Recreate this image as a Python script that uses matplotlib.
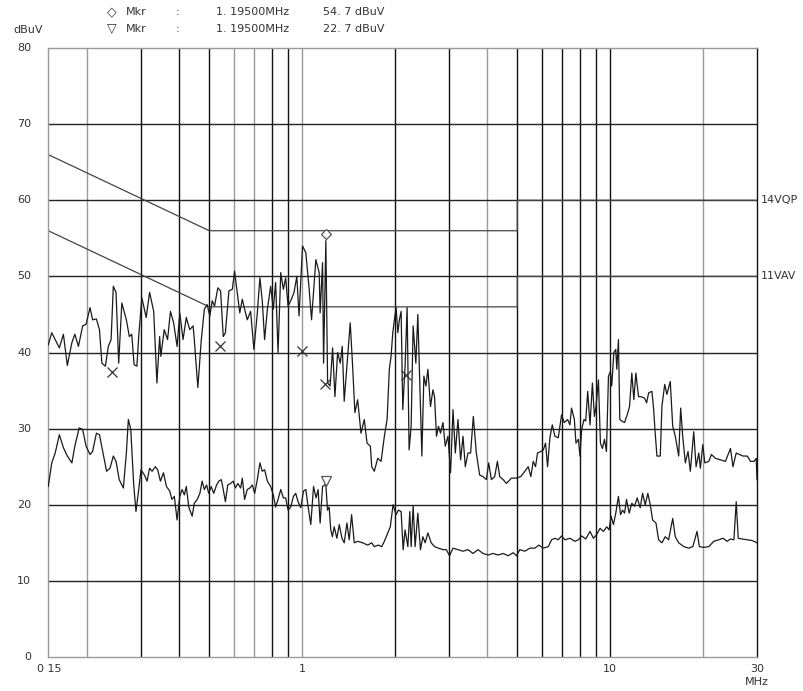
import matplotlib
matplotlib.use("Agg")
import matplotlib.pyplot as plt
import matplotlib.transforms as mtransforms

# peak trace (MHz, dBuV)
pk_freq = [0.150, 0.154, 0.158, 0.163, 0.168, 0.173, 0.179, 0.183, 0.188, 0.194,
           0.199, 0.205, 0.209, 0.215, 0.220, 0.224, 0.230, 0.235, 0.240, 0.244,
           0.249, 0.254, 0.260, 0.269, 0.275, 0.280, 0.285, 0.291, 0.295, 0.302,
           0.312, 0.320, 0.330, 0.338, 0.345, 0.348, 0.357, 0.366, 0.374, 0.383,
           0.393, 0.401, 0.411, 0.421, 0.432, 0.443, 0.447, 0.459, 0.471, 0.482,
           0.492, 0.502, 0.511, 0.520, 0.533, 0.544, 0.555, 0.564, 0.579, 0.594,
           0.604, 0.616, 0.628, 0.640, 0.651, 0.664, 0.681, 0.698, 0.716, 0.730,
           0.743, 0.756, 0.772, 0.791, 0.807, 0.821, 0.836, 0.853, 0.870, 0.885,
           0.901, 0.924, 0.942, 0.962, 0.978, 1.004, 1.029, 1.055, 1.074, 1.109,
           1.137, 1.145, 1.166, 1.175, 1.195, 1.211, 1.234, 1.257, 1.279, 1.305,
           1.331, 1.351, 1.371, 1.399, 1.434, 1.460, 1.485, 1.516, 1.554, 1.593,
           1.626, 1.667, 1.684, 1.717, 1.761, 1.806, 1.851, 1.889, 1.921, 1.946,
           1.971, 1.995, 2.021, 2.047, 2.071, 2.098, 2.124, 2.161, 2.194, 2.227,
           2.261, 2.295, 2.342, 2.377, 2.413, 2.450, 2.487, 2.525, 2.563, 2.613,
           2.661, 2.693, 2.733, 2.774, 2.817, 2.868, 2.918, 2.978, 3.036, 3.092,
           3.146, 3.209, 3.273, 3.332, 3.390, 3.459, 3.527, 3.599, 3.681, 3.774,
           3.870, 3.969, 4.038, 4.119, 4.223, 4.309, 4.385, 4.499, 4.611, 4.785,
           4.970, 5.133, 5.289, 5.426, 5.533, 5.633, 5.731, 5.817, 5.962, 6.072,
           6.177, 6.270, 6.380, 6.495, 6.624, 6.793, 6.960, 7.106, 7.284, 7.411,
           7.500, 7.660, 7.752, 7.893, 7.988, 8.090, 8.230, 8.339, 8.464, 8.611,
           8.767, 8.900, 9.007, 9.171, 9.309, 9.450, 9.594, 9.738, 9.885, 10.03,
           10.13, 10.29, 10.44, 10.52, 10.65, 10.76, 10.92, 11.15, 11.43, 11.57,
           11.77, 11.95, 12.13, 12.38, 12.62, 12.95, 13.15, 13.35, 13.68, 13.86,
           14.02, 14.20, 14.56, 14.74, 15.05, 15.30, 15.69, 15.98, 16.29, 16.71,
           16.96, 17.22, 17.56, 17.92, 18.23, 18.70, 19.03, 19.42, 19.65, 20.01,
           20.31, 20.93, 21.34, 21.99, 22.83, 23.70, 24.61, 25.07, 25.69, 26.33,
           27.01, 27.89, 28.59, 29.33, 29.84, 30.0]
pk_level = [41.0, 42.6, 41.7, 40.6, 42.4, 38.3, 41.3, 42.4, 40.8, 43.5,
            43.7, 45.9, 44.3, 44.4, 43.0, 38.6, 38.2, 40.8, 41.7, 48.7,
            47.9, 38.6, 46.5, 44.3, 42.1, 42.4, 38.4, 38.2, 42.1, 47.2,
            44.6, 47.9, 45.4, 36.0, 42.1, 39.5, 43.0, 41.7, 45.4, 43.9,
            40.8, 45.2, 41.7, 44.6, 43.0, 43.5, 41.7, 35.4, 41.7, 45.7,
            46.3, 44.8, 46.8, 46.1, 48.5, 48.1, 42.1, 42.6, 48.1, 48.3,
            50.7, 47.9, 45.2, 47.0, 45.7, 44.3, 45.4, 40.4, 45.2, 49.8,
            46.8, 41.7, 45.7, 48.7, 45.7, 49.2, 40.0, 50.5, 48.3, 49.8,
            46.1, 47.0, 47.9, 50.0, 44.8, 54.0, 53.1, 48.3, 44.3, 52.2,
            50.5, 45.2, 51.8, 38.6, 54.7, 36.0, 35.6, 40.6, 34.2, 40.0,
            38.6, 40.8, 33.6, 38.2, 43.9, 38.2, 32.1, 33.8, 29.4, 31.2,
            28.1, 27.7, 25.0, 24.4, 26.1, 25.7, 29.0, 31.2, 37.8, 39.5,
            42.6, 44.3, 45.9, 42.6, 44.3, 45.4, 32.5, 38.2, 45.9, 27.2,
            30.3, 43.5, 38.6, 45.0, 36.0, 26.4, 36.9, 35.6, 37.8, 32.9,
            35.1, 34.2, 29.0, 30.3, 29.4, 30.8, 27.7, 29.0, 24.2, 32.5,
            26.8, 31.2, 25.9, 29.0, 25.0, 26.8, 26.8, 31.6, 26.8, 23.9,
            23.7, 23.3, 25.5, 23.3, 23.7, 25.7, 23.7, 23.3, 22.8, 23.5,
            23.5, 23.7, 24.4, 25.0, 23.7, 25.7, 25.0, 26.8, 27.0, 27.2,
            28.1, 25.0, 28.8, 30.5, 29.0, 28.8, 31.8, 30.8, 31.2, 30.5,
            32.7, 31.2, 28.1, 28.6, 26.4, 29.9, 31.2, 31.0, 34.9, 30.5,
            36.0, 31.6, 32.9, 36.4, 28.1, 27.4, 28.6, 27.0, 36.9, 37.5,
            35.6, 40.0, 40.4, 37.8, 41.7, 31.2, 31.0, 30.8, 32.1, 32.9,
            37.3, 33.8, 37.3, 34.2, 34.2, 34.0, 33.4, 34.7, 34.9, 32.5,
            29.4, 26.4, 26.4, 32.9, 35.8, 34.5, 36.2, 30.3, 29.0, 26.4,
            32.7, 29.0, 25.5, 27.0, 24.4, 29.6, 25.0, 26.8, 24.8, 27.9,
            25.5, 25.7, 26.6, 26.1, 25.9, 25.7, 27.4, 25.0, 26.8, 26.6,
            26.4, 26.4, 25.7, 25.7, 26.1, 23.3]

# average trace (MHz, dBuV)
av_freq = [0.150, 0.154, 0.158, 0.163, 0.168, 0.173, 0.179, 0.183, 0.189, 0.194,
           0.199, 0.205, 0.209, 0.215, 0.220, 0.226, 0.232, 0.238, 0.244, 0.249,
           0.255, 0.263, 0.269, 0.273, 0.278, 0.284, 0.289, 0.295, 0.300, 0.308,
           0.314, 0.320, 0.326, 0.334, 0.340, 0.347, 0.355, 0.363, 0.372, 0.378,
           0.385, 0.393, 0.401, 0.408, 0.415, 0.421, 0.429, 0.440, 0.447, 0.457,
           0.466, 0.474, 0.482, 0.490, 0.498, 0.507, 0.517, 0.528, 0.537, 0.547,
           0.555, 0.564, 0.574, 0.586, 0.598, 0.608, 0.619, 0.632, 0.640, 0.651,
           0.664, 0.677, 0.690, 0.702, 0.716, 0.730, 0.743, 0.756, 0.772, 0.791,
           0.807, 0.821, 0.836, 0.853, 0.870, 0.885, 0.901, 0.919, 0.938, 0.954,
           0.971, 0.991, 1.011, 1.029, 1.047, 1.068, 1.090, 1.111, 1.128, 1.145,
           1.166, 1.195, 1.210, 1.225, 1.240, 1.255, 1.272, 1.298, 1.321, 1.348,
           1.371, 1.399, 1.423, 1.449, 1.478, 1.516, 1.574, 1.634, 1.684, 1.717,
           1.769, 1.814, 1.851, 1.899, 1.935, 1.975, 2.021, 2.056, 2.098, 2.130,
           2.161, 2.206, 2.239, 2.261, 2.295, 2.330, 2.377, 2.424, 2.468, 2.511,
           2.563, 2.627, 2.693, 2.774, 2.868, 2.940, 3.013, 3.092, 3.209, 3.332,
           3.459, 3.591, 3.729, 3.870, 4.019, 4.173, 4.332, 4.499, 4.670, 4.849,
           4.970, 5.094, 5.289, 5.492, 5.702, 5.874, 6.072, 6.303, 6.460, 6.624,
           6.793, 6.960, 7.137, 7.411, 7.694, 7.893, 8.090, 8.339, 8.611, 8.834,
           9.056, 9.281, 9.521, 9.761, 9.932, 10.08, 10.26, 10.44, 10.65, 10.82,
           10.98, 11.15, 11.31, 11.54, 11.77, 12.01, 12.25, 12.53, 12.76, 13.01,
           13.27, 13.51, 13.75, 14.10, 14.38, 14.74, 15.11, 15.50, 15.98, 16.29,
           16.71, 17.36, 18.02, 18.57, 19.17, 19.50, 20.16, 20.93, 21.72, 22.56,
           23.25, 24.00, 24.61, 25.25, 25.69, 26.08, 26.87, 27.89, 28.96, 30.0]
av_level = [22.4, 25.5, 26.8, 29.2, 27.5, 26.4, 25.5, 27.7, 30.1, 29.9,
            27.7, 26.6, 27.0, 29.4, 29.2, 26.8, 24.4, 24.8, 26.4, 25.7,
            23.3, 22.2, 26.8, 31.2, 29.9, 22.8, 19.1, 22.0, 24.6, 23.9,
            23.1, 24.8, 24.4, 25.0, 24.6, 23.1, 24.2, 22.4, 21.8, 20.7,
            21.1, 18.0, 21.1, 22.0, 21.3, 22.4, 19.7, 18.5, 20.2, 20.7,
            21.5, 23.1, 22.0, 22.6, 21.5, 22.4, 21.5, 22.6, 23.1, 23.3,
            22.0, 20.4, 22.6, 22.8, 23.1, 22.2, 22.8, 22.2, 23.5, 20.7,
            22.0, 22.2, 22.6, 21.5, 23.3, 25.5, 24.4, 24.6, 23.1, 22.4,
            21.3, 19.7, 20.7, 22.0, 20.9, 20.9, 19.3, 19.7, 21.1, 21.5,
            20.4, 19.6, 21.8, 22.0, 19.7, 17.4, 22.4, 20.9, 22.0, 17.6,
            22.4, 22.7, 19.3, 19.7, 16.7, 15.8, 17.1, 15.6, 17.4, 15.6,
            15.0, 17.6, 15.4, 18.7, 15.0, 15.2, 15.0, 14.7, 15.0, 14.5,
            14.7, 14.5, 15.2, 16.3, 17.1, 20.0, 18.7, 19.3, 19.1, 14.1,
            16.7, 14.5, 19.1, 14.5, 19.8, 14.5, 18.9, 14.1, 15.8, 15.0,
            16.3, 15.0, 14.5, 14.3, 14.1, 14.1, 13.3, 14.3, 14.1, 13.9,
            14.1, 13.6, 14.1, 13.6, 13.4, 13.6, 13.4, 13.6, 13.3, 13.7,
            13.3, 14.1, 13.9, 14.3, 14.3, 14.7, 14.3, 14.5, 15.4, 15.6,
            15.4, 15.9, 15.4, 15.6, 15.2, 15.4, 15.9, 15.5, 16.5, 15.6,
            16.1, 16.9, 16.5, 17.1, 16.7, 18.5, 17.4, 18.9, 21.1, 18.7,
            19.3, 18.9, 20.7, 18.9, 20.2, 19.8, 20.9, 19.6, 21.5, 20.0,
            21.5, 20.0, 18.0, 17.6, 15.4, 15.0, 15.8, 15.4, 18.2, 15.8,
            15.0, 14.5, 14.3, 14.5, 16.5, 14.5, 14.4, 14.5, 15.2, 15.4,
            15.6, 15.2, 15.5, 15.4, 20.4, 15.6, 15.5, 15.4, 15.3, 15.0]

# limit lines
qp_freq = [0.15, 0.5, 5.0, 5.0, 30.0]
qp_level = [66, 56, 56, 60, 60]
av_lim_freq = [0.15, 0.5, 5.0, 5.0, 30.0]
av_lim_level = [56, 46, 46, 50, 50]

# final measurement points (x) and the two markers
x_freq = [0.241, 0.540, 1.003, 1.186, 2.18]
x_level = [37.5, 40.8, 40.2, 35.9, 37.1]
mkr_freq = 1.195
mkr_pk = 54.7
mkr_av = 22.7

grid_gray = [0.2, 0.6, 0.7, 1, 4, 20]
grid_black = [0.3, 0.4, 0.5, 0.8, 0.9, 2, 3, 5, 6, 7, 8, 9, 10]

fig = plt.figure(figsize=(8.04, 6.91), dpi=100)
ax = fig.add_axes([0.060, 0.0492, 0.8815, 0.8813])
ax.set_xscale("log")
ax.set_xlim(0.15, 30)
ax.set_ylim(0, 80)

for f in grid_gray:
    ax.axvline(f, color="#999999", lw=1.0, zorder=1)
for f in grid_black:
    ax.axvline(f, color="#111111", lw=1.0, zorder=1)
for v in range(10, 80, 10):
    ax.axhline(v, color="#222222", lw=1.0, zorder=1)

ax.plot(qp_freq, qp_level, color="#444444", lw=0.9, zorder=2)
ax.plot(av_lim_freq, av_lim_level, color="#444444", lw=0.9, zorder=2)

ax.plot(pk_freq, pk_level, color="#1a1a1a", lw=0.9, zorder=3)
ax.plot(av_freq, av_level, color="#1a1a1a", lw=0.9, zorder=3)

ax.plot(x_freq, x_level, ls="none", marker="x", ms=7, mew=0.9, color="#333333", zorder=4)

# markers sit just above the trace peak
up = mtransforms.offset_copy(ax.transData, fig=fig, x=0, y=5, units="points")
ax.plot([mkr_freq], [mkr_pk], ls="none", marker="D", ms=5.5, mfc="white", mec="#555555", mew=0.9,
        transform=up, zorder=5)
up2 = mtransforms.offset_copy(ax.transData, fig=fig, x=0, y=2.5, units="points")
ax.plot([mkr_freq], [mkr_av], ls="none", marker="v", ms=7, mfc="white", mec="#555555", mew=0.9,
        transform=up2, zorder=5)

for side in ["left", "top", "bottom"]:
    ax.spines[side].set_color("#999999")
ax.spines["right"].set_color("#111111")
for s in ax.spines.values():
    s.set_linewidth(1.0)

ax.set_xticks([])
ax.set_yticks([])
ax.minorticks_off()

txt = dict(fontsize=8, color="#333333", family="DejaVu Sans")
for v in range(0, 90, 10):
    ax.text(-0.024, v, str(v), transform=ax.get_yaxis_transform(), ha="right", va="center", **txt)
ax.text(-0.0155, -0.019, "0 15", ha="left", va="center", transform=ax.transAxes, **txt)
ax.text(1.0, -1.6, "1", ha="center", va="center", **txt)
ax.text(10.0, -1.6, "10", ha="center", va="center", **txt)
ax.text(30.0, -1.6, "30", ha="center", va="center", **txt)
ax.text(30.0, -3.3, "MHz", ha="center", va="center", **txt)
ax.text(1.006, 60, "14VQP", transform=ax.get_yaxis_transform(), ha="left", va="center", **txt)
ax.text(1.006, 50, "11VAV", transform=ax.get_yaxis_transform(), ha="left", va="center", **txt)

fig.text(13 / 804, 1 - 30 / 691, "dBuV", ha="left", va="center", **txt)
fig.text(112 / 804, 1 - 12 / 691, "\u25c7", ha="center", va="center", fontsize=9, color="#333333")
fig.text(112 / 804, 1 - 29 / 691, "\u25bd", ha="center", va="center", fontsize=9, color="#333333")
for row, val in [(12, "54. 7 dBuV"), (29, "22. 7 dBuV")]:
    yy = 1 - row / 691
    fig.text(126 / 804, yy, "Mkr", ha="left", va="center", **txt)
    fig.text(176 / 804, yy, ":", ha="left", va="center", **txt)
    fig.text(216 / 804, yy, "1. 19500MHz", ha="left", va="center", **txt)
    fig.text(323 / 804, yy, val, ha="left", va="center", **txt)

fig.savefig("out.png", dpi=100)
